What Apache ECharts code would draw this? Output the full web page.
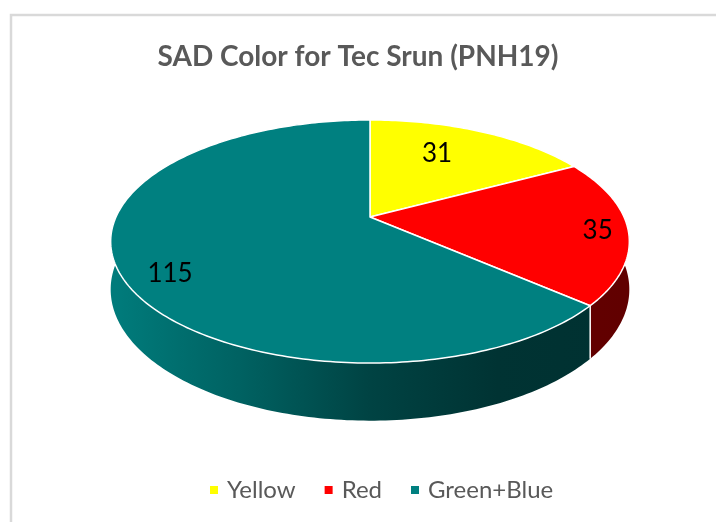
<!DOCTYPE html>
<html>
<head>
<meta charset="utf-8">
<script src="https://cdn.jsdelivr.net/npm/echarts@6/dist/echarts.min.js"></script>
<style>
  html, body { margin: 0; padding: 0; background: #fff; }
  #chart { width: 716px; height: 522px; }
</style>
</head>
<body>
<div id="chart"></div>
<script>
// slice data
const categories = ['Yellow', 'Red', 'Green+Blue'];
const counts = [31, 35, 115];
const sliceColors = ['#FFFF00', '#FF0000', '#008080'];

// 3d pie look (layout only)
const cx = 370, cy = 217;     // pie centre on screen
const rx = 254, ry = 116.6;   // radii of the tilted disc
const persp = 0.2016;         // near side looks bigger
const depth = 46;             // thickness
const labelRadius = [0.66, 0.88, 0.84];
const labelNudge = [[-10, -4], [1, 2], [9, 13]];
const fontName = 'Lato';

const total = counts.reduce((s, v) => s + v, 0);
const starts = counts.map((v, i) => counts.slice(0, i).reduce((s, x) => s + x, 0));

// angle 0 = 12 o'clock, clockwise
function proj(r, phi, drop) {
  const u = r * Math.sin(phi);
  const v = -r * Math.cos(phi);
  const w = 1 - persp * v;
  return [cx + rx * u / w, cy + (ry * v + (drop || 0)) / w];
}

function arc(a0, a1, drop) {
  const pts = [];
  const n = Math.max(2, Math.ceil((a1 - a0) / (Math.PI / 180)));
  for (let k = 0; k <= n; k++) {
    pts.push(proj(1, a0 + (a1 - a0) * k / n, drop));
  }
  return pts;
}

function shade(hex, f) {
  const n = parseInt(hex.slice(1), 16);
  const r = Math.round(((n >> 16) & 255) * f);
  const g = Math.round(((n >> 8) & 255) * f);
  const b = Math.round((n & 255) * f);
  return 'rgb(' + r + ',' + g + ',' + b + ')';
}

// side gets darker towards the right
function sideFill(color) {
  return new echarts.graphic.LinearGradient(cx - rx, 0, cx + rx, 0, [
    { offset: 0, color: shade(color, 0.96) },
    { offset: 0.25, color: shade(color, 0.76) },
    { offset: 0.5, color: shade(color, 0.52) },
    { offset: 0.75, color: shade(color, 0.4) },
    { offset: 1, color: shade(color, 0.38) },
  ], true);
}

function renderSlice(params, api) {
  const idx = params.seriesIndex;
  const color = sliceColors[idx];
  const start = api.value(0), val = api.value(1), sum = api.value(2);
  const a0 = start / sum * Math.PI * 2;
  const a1 = (start + val) / sum * Math.PI * 2;
  const children = [];

  // visible part of the side wall (front half)
  const s0 = Math.max(a0, Math.PI / 2), s1 = Math.min(a1, Math.PI * 1.5);
  if (s1 > s0) {
    const top = arc(s0, s1, 0);
    const bottom = arc(s0, s1, depth).reverse();
    children.push({
      type: 'polygon',
      z2: 1,
      shape: { points: top.concat(bottom) },
      style: { fill: sideFill(color), stroke: null },
    });
    if (a0 >= Math.PI / 2 && a0 <= Math.PI * 1.5) {
      children.push({
        type: 'polyline',
        z2: 2,
        shape: { points: [proj(1, a0, 0), proj(1, a0, depth)] },
        style: { stroke: '#fff', lineWidth: 1.5, fill: null },
      });
    }
  }

  // top face
  children.push({
    type: 'polygon',
    z2: 10,
    shape: { points: [[cx, cy]].concat(arc(a0, a1, 0)) },
    style: { fill: color, stroke: '#fff', lineWidth: 1.5, lineJoin: 'round' },
  });

  // value label
  const mid = (a0 + a1) / 2;
  const lp = proj(labelRadius[idx], mid, 0);
  children.push({
    type: 'text',
    z2: 20,
    x: lp[0] + labelNudge[idx][0],
    y: lp[1] + labelNudge[idx][1],
    style: {
      text: String(val),
      fill: '#000',
      font: '26px ' + fontName,
      align: 'center',
      verticalAlign: 'middle',
    },
  });

  return { type: 'group', children: children };
}

const chart = echarts.init(document.getElementById('chart'));

chart.setOption({
  animation: false,
  backgroundColor: '#fff',
  title: {
    text: 'SAD Color for Tec Srun (PNH19)',
    left: 'center',
    top: 38,
    textStyle: { fontSize: 28, fontWeight: 'bold', color: '#595959', fontFamily: fontName },
  },
  legend: {
    data: categories,
    top: 473,
    left: 205,
    icon: 'rect',
    itemWidth: 8,
    itemHeight: 8,
    itemGap: 29,
    selectedMode: false,
    textStyle: { fontSize: 24, color: '#595959', fontFamily: fontName, padding: [0, 0, 0, 4] },
  },
  graphic: [{
    type: 'rect',
    shape: { x: 11, y: 15, width: 720, height: 520 },
    style: { fill: null, stroke: '#d9d9d9', lineWidth: 2.5 },
    silent: true,
  }],
  series: categories.map((name, i) => ({
    type: 'custom',
    name: name,
    coordinateSystem: 'none',
    silent: true,
    itemStyle: { color: sliceColors[i] },
    data: [[starts[i], counts[i], total]],
    renderItem: renderSlice,
  })),
});
</script>
</body>
</html>
